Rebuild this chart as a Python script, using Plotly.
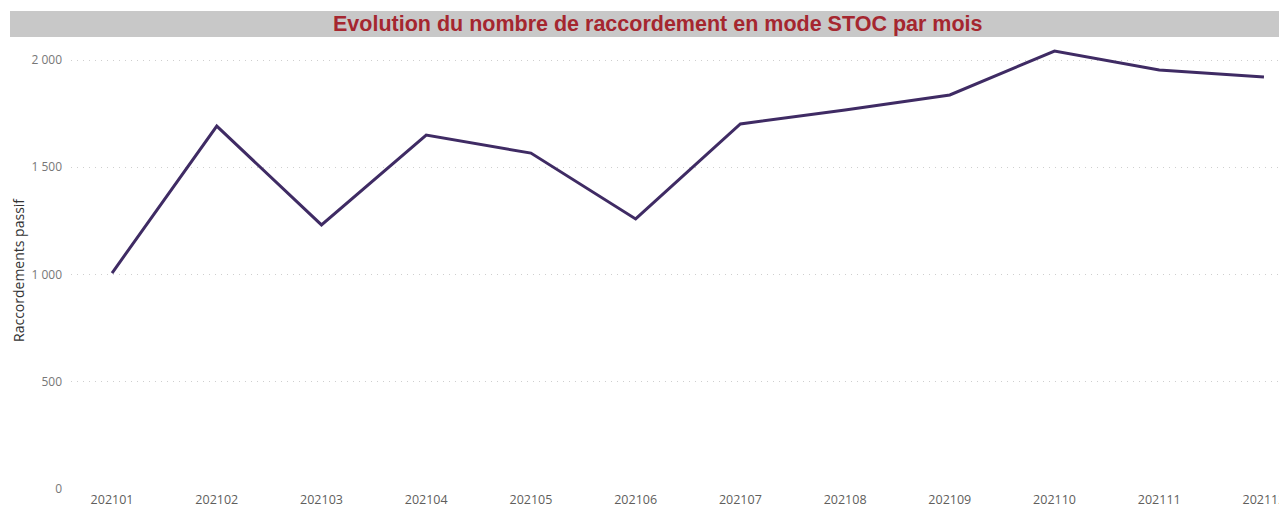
import plotly.graph_objects as go

months = ["202101", "202102", "202103", "202104", "202105", "202106",
          "202107", "202108", "202109", "202110", "202111", "202112"]
raccordements = [1007, 1692, 1231, 1650, 1566, 1259, 1702, 1767, 1837, 2042, 1953, 1921]
y_ticks = [0, 500, 1000, 1500, 2000]
y_tick_labels = ["0", "500", "1 000", "1 500", "2 000"]

# page body has an 8px margin; figure coords = reference coords - 8
W, H = 1279, 500
L, R, T, B = 63, 0, 37, 19
PW, PH = W - L - R, H - T - B

def px(xr):
    return (xr - 8 - L) / PW

def py(yr):
    return (H - B - (yr - 8)) / PH

fig = go.Figure()
fig.add_trace(go.Scatter(
    x=list(range(len(months))), y=raccordements, mode="lines",
    line=dict(color="#3F2B64", width=3), hoverinfo="skip", showlegend=False,
))

font_ui = "Segoe UI, Open Sans, DejaVu Sans"
fig.update_layout(
    width=W, height=H,
    margin=dict(l=L, r=R, t=T, b=B, pad=0),
    paper_bgcolor="white", plot_bgcolor="white",
    xaxis=dict(
        tickmode="array", tickvals=list(range(len(months))), ticktext=months,
        range=[-0.392, 11.22], showgrid=False, zeroline=False, showline=False,
        tickfont=dict(family=font_ui, size=12.5, color="#605E5C"),
        ticks="", ticklabelstandoff=1, automargin=False,
    ),
    yaxis=dict(
        tickmode="array", tickvals=y_ticks, ticktext=y_tick_labels,
        range=[0, 2070], autorange=False,
        showgrid=True, gridcolor="#CFCFCF", griddash="1px,5px", gridwidth=1,
        zeroline=False, showline=False, ticks="", ticklabelstandoff=8,
        automargin=False,
        tickfont=dict(family=font_ui, size=12, color="#777777"),
    ),
    shapes=[dict(type="rect", xref="paper", yref="paper",
                 x0=px(10), x1=1.0, y0=py(37), y1=py(11),
                 fillcolor="#C8C8C8", line=dict(width=0), layer="below")],
    annotations=[
        dict(text="<b>Evolution du nombre de raccordement en mode STOC par mois</b>",
             xref="paper", yref="paper", x=px(658), y=py(24),
             xanchor="center", yanchor="middle", showarrow=False,
             font=dict(family="Liberation Sans, Arial", size=21.5, color="#A5262F")),
        dict(text="Raccordements passif", textangle=-90,
             xref="paper", yref="paper", x=px(18), y=py(270),
             xanchor="center", yanchor="middle", showarrow=False,
             font=dict(family=font_ui, size=14, color="#333333")),
    ],
)
fig.write_html("out.html")
